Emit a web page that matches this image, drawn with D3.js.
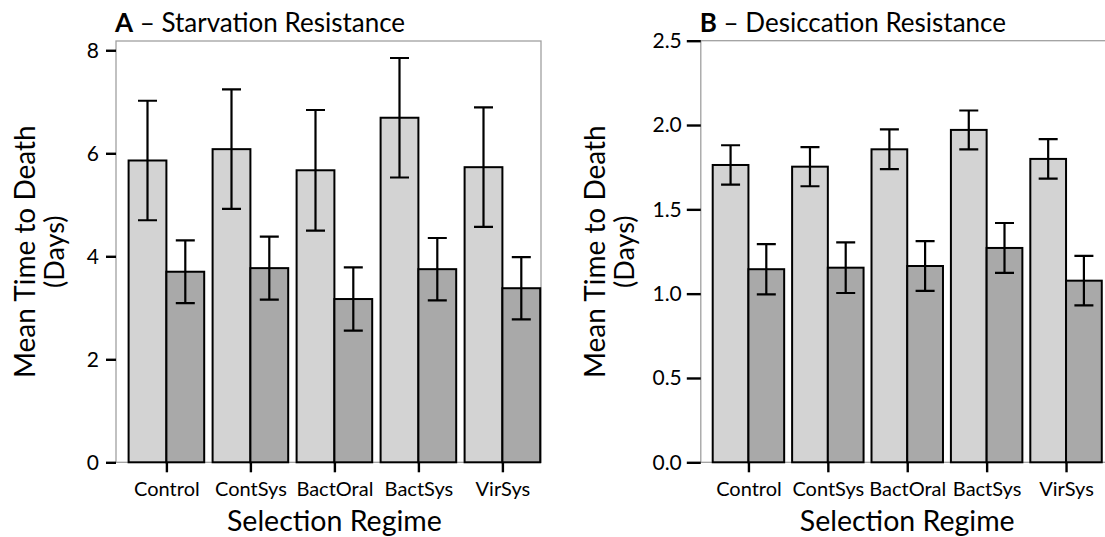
<!DOCTYPE html>
<html>
<head>
<meta charset="utf-8">
<script src="https://cdn.jsdelivr.net/npm/d3@7"></script>
<style>
  html, body { margin: 0; padding: 0; background: #fff; }
  svg { display: block; }
  text { font-family: "Lato", "Open Sans", sans-serif; fill: #000; }
</style>
</head>
<body>
<svg id="chart" width="1105" height="537"></svg>
<script>
// ---------------- data ----------------
const categories = ["Control", "ContSys", "BactOral", "BactSys", "VirSys"];

// Panel A – Starvation resistance (days)
const starvLightMean = [5.86, 6.08, 5.67, 6.69, 5.73];
const starvLightErr  = [1.16, 1.16, 1.17, 1.16, 1.16];
const starvDarkMean  = [3.70, 3.77, 3.17, 3.75, 3.38];
const starvDarkErr   = [0.61, 0.61, 0.615, 0.605, 0.605];
const starvTicks     = [0, 2, 4, 6, 8];

// Panel B – Desiccation resistance (days)
const desicLightMean = [1.763, 1.753, 1.856, 1.971, 1.799];
const desicLightErr  = [0.117, 0.116, 0.118, 0.115, 0.117];
const desicDarkMean  = [1.145, 1.154, 1.164, 1.271, 1.077];
const desicDarkErr   = [0.149, 0.150, 0.148, 0.148, 0.147];
const desicTicks     = [0, 0.5, 1.0, 1.5, 2.0, 2.5];

const titleA = ["A", " \u2013 Starvation Resistance"];
const titleB = ["B", " \u2013 Desiccation Resistance"];
const yTitleLines = ["Mean Time to Death", "(Days)"];
const xTitle = "Selection Regime";

// ---------------- drawing ----------------
const svg = d3.select("#chart");
const LIGHT = "#d3d3d3", DARK = "#a9a9a9";

function panel(cfg) {
  const g = svg.append("g");
  const top = 41, bottom = 462.3;
  const step = cfg.step;
  const x = d3.scalePoint().domain(categories)
      .range([cfg.left, cfg.left + 5.2 * step]).padding(0.6);
  const bw = 0.9 * step / 2;
  const y = d3.scaleLinear().domain([0, cfg.ymax]).range([bottom, cfg.yTopPx]);

  // panel border (grey)
  g.append("rect")
    .attr("x", cfg.left).attr("y", y(cfg.ymax))
    .attr("width", cfg.right - cfg.left).attr("height", bottom - y(cfg.ymax))
    .attr("fill", "none").attr("stroke", "#a0a0a0").attr("stroke-width", 1.3);

  const series = [
    {mean: cfg.lightMean, err: cfg.lightErr, fill: LIGHT, off: -bw},
    {mean: cfg.darkMean,  err: cfg.darkErr,  fill: DARK,  off: 0}
  ];
  series.forEach(s => {
    const data = categories.map((c, i) => ({c, m: s.mean[i], e: s.err[i]}));
    g.append("g").selectAll("rect").data(data).join("rect")
      .attr("x", d => x(d.c) + s.off)
      .attr("y", d => y(d.m))
      .attr("width", bw)
      .attr("height", d => y(0) - y(d.m))
      .attr("fill", s.fill).attr("stroke", "#000").attr("stroke-width", 2);
  });
  const capW = 19;
  series.forEach(s => {
    const data = categories.map((c, i) => ({c, m: s.mean[i], e: s.err[i]}));
    const eg = g.append("g").attr("stroke", "#000").attr("stroke-width", 2.2).attr("fill", "none");
    eg.selectAll("path").data(data).join("path")
      .attr("d", d => {
        const cx = x(d.c) + s.off + bw / 2;
        const y1 = y(d.m + d.e), y0 = y(d.m - d.e);
        return `M${cx - capW/2},${y1}H${cx + capW/2}M${cx},${y1}V${y0}M${cx - capW/2},${y0}H${cx + capW/2}`;
      });
  });

  // y axis
  const ya = d3.axisLeft(y).tickValues(cfg.ticks).tickFormat(cfg.fmt)
      .tickSize(cfg.tickLen).tickPadding(cfg.tickPad);
  const yg = g.append("g").attr("transform", `translate(${cfg.left},0)`).call(ya);
  yg.select(".domain").remove();
  yg.selectAll("line").attr("stroke", "#000").attr("stroke-width", 2.4);
  yg.selectAll("text").style("font-size", "21px").style("font-family", null).attr("fill", "#000");

  // x axis
  const xa = d3.axisBottom(x).tickSize(10).tickPadding(10);
  const xg = g.append("g").attr("transform", `translate(0,${bottom})`).call(xa);
  xg.select(".domain").remove();
  xg.selectAll("line").attr("stroke", "#000").attr("stroke-width", 2.4);
  xg.selectAll("text").style("font-size", "20px").style("font-family", null).attr("fill", "#000");

  // title
  const t = g.append("text").attr("x", cfg.left - 1).attr("y", 32).style("font-size", "26px");
  t.append("tspan").attr("font-weight", "bold").text(cfg.title[0]);
  t.append("tspan").text(cfg.title[1]);

  // y title
  const cy = (top + bottom) / 2;
  g.append("text").attr("transform", `translate(${cfg.yTitleX},${cy}) rotate(-90)`)
    .attr("text-anchor", "middle").style("font-size", "28px").text(yTitleLines[0]);
  g.append("text").attr("transform", `translate(${cfg.yTitleX + 29},${cy}) rotate(-90)`)
    .attr("text-anchor", "middle").style("font-size", "27px").text(yTitleLines[1]);

  // x title
  g.append("text").attr("x", x(categories[2])).attr("y", 531)
    .attr("text-anchor", "middle").style("font-size", "28.5px").text(xTitle);
}

panel({
  left: 116, right: 541, step: 84, ymax: 8.18, yTopPx: 41,
  lightMean: starvLightMean, lightErr: starvLightErr,
  darkMean: starvDarkMean, darkErr: starvDarkErr,
  ticks: starvTicks, fmt: d3.format("d"), tickLen: 10, tickPad: 7,
  title: titleA, yTitleX: 35
});
panel({
  left: 700.8, right: 1113, step: 79.4, ymax: 2.5, yTopPx: 40.7,
  lightMean: desicLightMean, lightErr: desicLightErr,
  darkMean: desicDarkMean, darkErr: desicDarkErr,
  ticks: desicTicks, fmt: d3.format(".1f"), tickLen: 14, tickPad: 5,
  title: titleB, yTitleX: 605
});
</script>
</body>
</html>
